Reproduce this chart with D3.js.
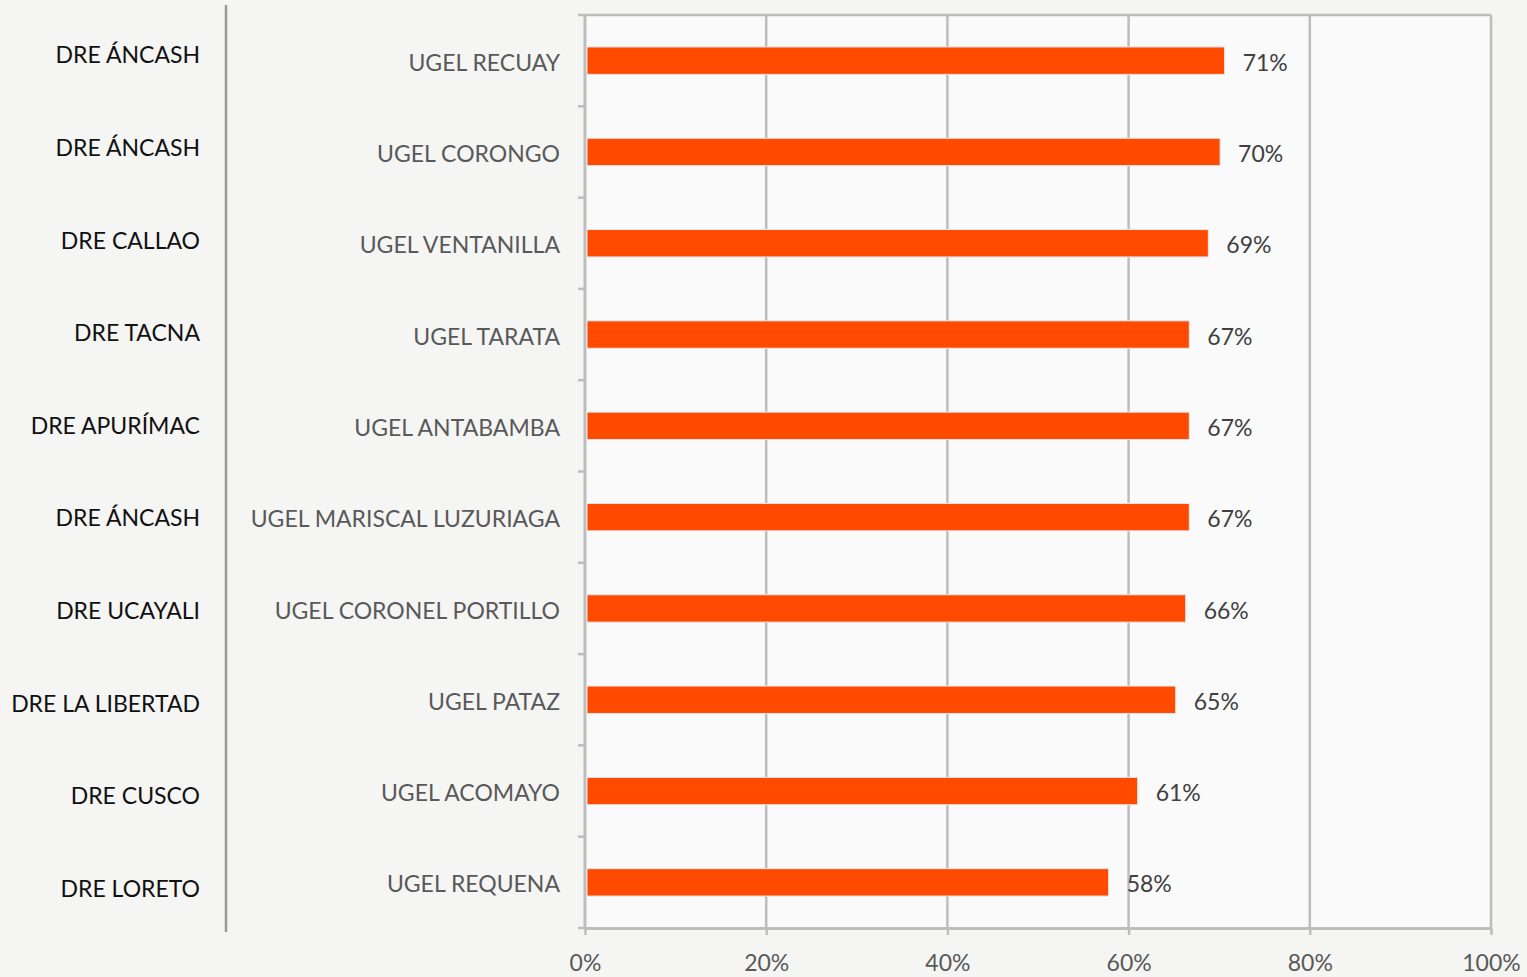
<!DOCTYPE html>
<html>
<head>
<meta charset="utf-8">
<script src="https://cdn.jsdelivr.net/npm/d3@7"></script>
<style>
  html, body { margin: 0; padding: 0; background: #f5f5f4; }
  svg { display: block; }
</style>
</head>
<body>
<div id="chart"></div>
<script>
const regions = ["DRE ÁNCASH", "DRE ÁNCASH", "DRE CALLAO", "DRE TACNA", "DRE APURÍMAC",
  "DRE ÁNCASH", "DRE UCAYALI", "DRE LA LIBERTAD", "DRE CUSCO", "DRE LORETO"];
const ugels = ["UGEL RECUAY", "UGEL CORONGO", "UGEL VENTANILLA", "UGEL TARATA", "UGEL ANTABAMBA",
  "UGEL MARISCAL LUZURIAGA", "UGEL CORONEL PORTILLO", "UGEL PATAZ", "UGEL ACOMAYO", "UGEL REQUENA"];
const values = [0.706, 0.701, 0.688, 0.667, 0.667, 0.667, 0.663, 0.652, 0.610, 0.578];
const xTicks = [0, 0.2, 0.4, 0.6, 0.8, 1];

const width = 1527, height = 977;
const font = "Lato, 'Open Sans', sans-serif";

const svg = d3.select("#chart")
  .append("svg")
  .attr("width", width)
  .attr("height", height)
  .attr("viewBox", [0, 0, width, height]);

svg.append("rect").attr("width", width).attr("height", height).attr("fill", "#f5f5f4");

const plot = { left: 585, right: 1491, top: 15, bottom: 928 };

const x = d3.scaleLinear().domain([0, 1]).range([plot.left, plot.right]);
const y = d3.scaleBand().domain(d3.range(ugels.length)).range([plot.top, plot.bottom]).paddingInner(0.7).paddingOuter(0.35);
const yEdge = d3.scaleBand().domain(d3.range(ugels.length)).range([plot.top, plot.bottom]);
const yRegion = d3.scaleBand().domain(d3.range(regions.length)).range([9, 935]);

// plot background
svg.append("rect")
  .attr("x", plot.left).attr("y", plot.top)
  .attr("width", plot.right - plot.left).attr("height", plot.bottom - plot.top)
  .attr("fill", "#fafafa");

// gridlines
svg.append("g")
  .selectAll("line")
  .data(xTicks.slice(1))
  .join("line")
  .attr("x1", d => x(d)).attr("x2", d => x(d))
  .attr("y1", plot.top).attr("y2", plot.bottom)
  .attr("stroke", "#bdbdbd").attr("stroke-width", 2.5);

// top border
svg.append("line")
  .attr("x1", plot.left).attr("x2", plot.right)
  .attr("y1", plot.top).attr("y2", plot.top)
  .attr("stroke", "#bdbdbd").attr("stroke-width", 2.5);

// x axis
const gx = svg.append("g").attr("transform", `translate(0, ${plot.bottom})`)
  .call(d3.axisBottom(x).tickValues(xTicks).tickFormat(d3.format(".0%")).tickSize(7).tickSizeOuter(0));
gx.select(".domain").attr("stroke", "#bdbdbd").attr("stroke-width", 3);
gx.selectAll(".tick line").attr("stroke", "#bdbdbd").attr("stroke-width", 2.5);
gx.selectAll(".tick text")
  .attr("y", 27)
  .attr("fill", "#595959")
  .style("font-family", font)
  .style("font-size", "23px");

// y axis with ticks on band edges
const gy = svg.append("g");
gy.append("line")
  .attr("x1", plot.left).attr("x2", plot.left)
  .attr("y1", plot.top - 1).attr("y2", plot.bottom + 1)
  .attr("stroke", "#bdbdbd").attr("stroke-width", 3);
gy.selectAll("line.tick")
  .data(d3.range(ugels.length + 1))
  .join("line")
  .attr("class", "tick")
  .attr("x1", plot.left - 7).attr("x2", plot.left)
  .attr("y1", d => d < ugels.length ? yEdge(d) : plot.bottom)
  .attr("y2", d => d < ugels.length ? yEdge(d) : plot.bottom)
  .attr("stroke", "#bdbdbd").attr("stroke-width", 2.5);

// bars
svg.append("g")
  .selectAll("rect")
  .data(values)
  .join("rect")
  .attr("x", x(0) + 2)
  .attr("y", (d, i) => y(i))
  .attr("width", d => x(d) - x(0) - 2)
  .attr("height", y.bandwidth())
  .attr("fill", "#ff4a00")
  .attr("stroke", "#e4e8ee")
  .attr("stroke-width", 1);

// value labels
svg.append("g")
  .selectAll("text")
  .data(values)
  .join("text")
  .attr("x", d => x(d) + 18)
  .attr("y", (d, i) => y(i) + y.bandwidth() / 2 + 2)
  .attr("dy", "0.35em")
  .attr("fill", "#404040")
  .style("font-family", font)
  .style("font-size", "23px")
  .text(d => d3.format(".0%")(d));

// UGEL labels
svg.append("g")
  .selectAll("text")
  .data(ugels)
  .join("text")
  .attr("x", 560)
  .attr("y", (d, i) => y(i) + y.bandwidth() / 2 + 2)
  .attr("dy", "0.35em")
  .attr("text-anchor", "end")
  .attr("fill", "#595959")
  .style("font-family", font)
  .style("font-size", "23px")
  .text(d => d);

// divider line
svg.append("line")
  .attr("x1", 226).attr("x2", 226)
  .attr("y1", 5).attr("y2", 932)
  .attr("stroke", "#9a9a9a").attr("stroke-width", 2.5);

// DRE labels
svg.append("g")
  .selectAll("text")
  .data(regions)
  .join("text")
  .attr("x", 200)
  .attr("y", (d, i) => yRegion(i) + yRegion.bandwidth() / 2)
  .attr("dy", "0.35em")
  .attr("text-anchor", "end")
  .attr("fill", "#111")
  .style("font-family", font)
  .style("font-size", "23px")
  .text(d => d);
</script>
</body>
</html>
